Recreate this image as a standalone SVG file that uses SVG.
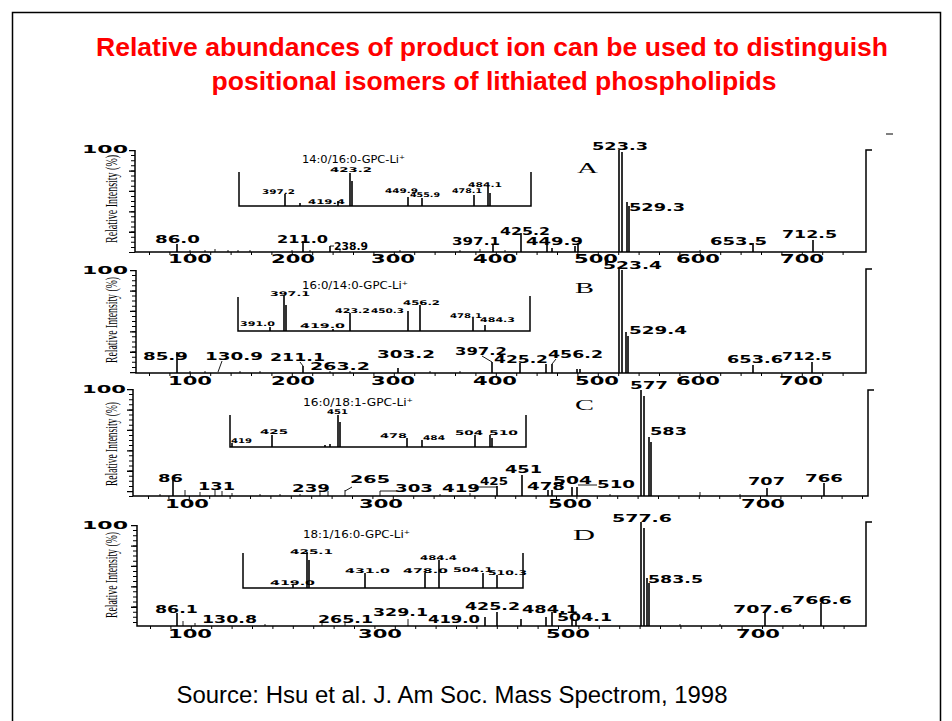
<svg xmlns="http://www.w3.org/2000/svg" width="952" height="721" viewBox="0 0 952 721">
<style>
.ax{stroke:#000;stroke-width:1.5;fill:none}
.pk{stroke:#000;stroke-width:1.6;fill:none}
.ld{stroke:#000;stroke-width:0.9;fill:none}
.ytm{stroke:#000;stroke-width:4;stroke-dasharray:1 4.1;fill:none}
.ytM{stroke:#000;stroke-width:6;stroke-dasharray:1.3 19.1;fill:none}
.xt{stroke:#000;stroke-width:3;stroke-dasharray:1 19.4;fill:none}
text{fill:#000}
.ttl{font-family:"Liberation Sans",Arial,sans-serif;font-weight:bold;font-size:26.6px;fill:#f00;text-anchor:middle}
.src{font-family:"Liberation Sans",Arial,sans-serif;font-size:23.9px;text-anchor:middle}
.n{font-family:"DejaVu Sans",sans-serif;font-weight:bold;font-size:13px}
.h{font-family:"DejaVu Sans",sans-serif;font-weight:bold;font-size:11px}
.p{font-family:"DejaVu Sans",sans-serif;font-weight:bold;font-size:10px}
.s{font-family:"DejaVu Sans",sans-serif;font-weight:bold;font-size:6.5px}
.it{font-family:"DejaVu Sans",sans-serif;font-size:11px}
.yl{font-family:"Liberation Serif","Times New Roman",serif;font-size:17px}
.lt{font-family:"Liberation Serif","Times New Roman",serif;font-size:15px}
</style>
<rect x="0" y="0" width="952" height="721" fill="#fff"/>
<path d="M12.5 721V12.5H940.5V721" stroke="#000" stroke-width="1.5" fill="none"/>
<g id="title">
<text class="ttl" x="492" y="56" textLength="792" lengthAdjust="spacingAndGlyphs">Relative abundances of product ion can be used to distinguish</text>
<text class="ttl" x="494" y="90" textLength="565" lengthAdjust="spacingAndGlyphs">positional isomers of lithiated phospholipids</text>
</g>
<path d="M886 134H893" stroke="#000" stroke-width="1"/>

<!-- Panel A -->
<g id="panel-A">
<path class="ax" d="M135 150V252H866V150H872"/>
<path class="ytm" d="M133 150V253"/>
<path class="ytM" d="M132 150V253"/>
<path class="xt" d="M149 253.5H862"/>
<text class="h" x="82" y="153" textLength="46" lengthAdjust="spacingAndGlyphs">100</text>
<text class="yl" transform="translate(117 243) rotate(-90)" textLength="88" lengthAdjust="spacingAndGlyphs">Relative Intensity (%)</text>
<text class="n" x="168" y="263" textLength="44" lengthAdjust="spacingAndGlyphs">100</text>
<text class="n" x="271" y="263" textLength="44" lengthAdjust="spacingAndGlyphs">200</text>
<text class="n" x="371" y="263" textLength="44" lengthAdjust="spacingAndGlyphs">300</text>
<text class="n" x="473" y="263" textLength="44" lengthAdjust="spacingAndGlyphs">400</text>
<text class="n" x="574" y="263" textLength="44" lengthAdjust="spacingAndGlyphs">500</text>
<text class="n" x="676" y="263" textLength="44" lengthAdjust="spacingAndGlyphs">600</text>
<text class="n" x="780" y="263" textLength="44" lengthAdjust="spacingAndGlyphs">700</text>
<path class="pk" d="M177 252V244M303 252V241M330 252V246M493 252V244M521 252V233M547 252V245M552 252V248M575 252V246M578 252V243M619 252V150M622 252V152M627 252V202M629 252V206M753 252V243M813 252V240"/>
<path class="ld" d="M190 252V250M205 252V250M215 252V249M228 252V250M238 252V250M250 252V250M292 252V250M310 252V250M340 252V249M400 252V250M460 252V250M480 252V249M505 252V250M700 252V250M330 246H334"/>
<text class="p" x="155" y="243" textLength="45" lengthAdjust="spacingAndGlyphs">86.0</text>
<text class="p" x="277" y="243" textLength="51" lengthAdjust="spacingAndGlyphs">211.0</text>
<text class="p" x="334" y="250" textLength="34" lengthAdjust="spacingAndGlyphs">238.9</text>
<text class="p" x="452" y="245" textLength="48" lengthAdjust="spacingAndGlyphs">397.1</text>
<text class="p" x="500" y="235" textLength="50" lengthAdjust="spacingAndGlyphs">425.2</text>
<text class="p" x="526" y="245" textLength="57" lengthAdjust="spacingAndGlyphs">449.9</text>
<text class="p" x="592" y="150" textLength="56" lengthAdjust="spacingAndGlyphs">523.3</text>
<text class="p" x="629" y="211" textLength="56" lengthAdjust="spacingAndGlyphs">529.3</text>
<text class="p" x="710" y="245" textLength="57" lengthAdjust="spacingAndGlyphs">653.5</text>
<text class="p" x="782" y="238" textLength="55" lengthAdjust="spacingAndGlyphs">712.5</text>
<text class="lt" x="577" y="173" textLength="21" lengthAdjust="spacingAndGlyphs">A</text>
<g id="inset-A">
<path class="ax" d="M239 172V206H531V172" stroke-width="1.2"/>
<text class="it" x="302" y="163" textLength="103" lengthAdjust="spacingAndGlyphs">14:0/16:0-GPC-Li⁺</text>
<path class="pk" d="M285 206V194M300 206V203M338 206V201M350 206V173M352 206V181M408 206V197M422 206V198M474 206V195M488 206V187M490 206V193" stroke-width="1.4"/>
<text class="s" x="262" y="194" textLength="33" lengthAdjust="spacingAndGlyphs">397.2</text>
<text class="s" x="308" y="204" textLength="37" lengthAdjust="spacingAndGlyphs">419.4</text>
<text class="s" x="330" y="172" textLength="42" lengthAdjust="spacingAndGlyphs">423.2</text>
<text class="s" x="385" y="193" textLength="33" lengthAdjust="spacingAndGlyphs">449.9</text>
<text class="s" x="410" y="197" textLength="30" lengthAdjust="spacingAndGlyphs">455.9</text>
<text class="s" x="452" y="193" textLength="30" lengthAdjust="spacingAndGlyphs">478.1</text>
<text class="s" x="468" y="187" textLength="34" lengthAdjust="spacingAndGlyphs">484.1</text>
</g>
</g>

<!-- Panel B -->
<g id="panel-B">
<path class="ax" d="M136 270V373H866V269H872"/>
<path class="ytm" d="M134 270V374"/>
<path class="ytM" d="M133 270V374"/>
<path class="xt" d="M149 374.5H862"/>
<text class="h" x="82" y="274" textLength="46" lengthAdjust="spacingAndGlyphs">100</text>
<text class="yl" transform="translate(117 363) rotate(-90)" textLength="86" lengthAdjust="spacingAndGlyphs">Relative Intensity (%)</text>
<text class="n" x="168" y="385" textLength="44" lengthAdjust="spacingAndGlyphs">100</text>
<text class="n" x="271" y="385" textLength="44" lengthAdjust="spacingAndGlyphs">200</text>
<text class="n" x="371" y="385" textLength="44" lengthAdjust="spacingAndGlyphs">300</text>
<text class="n" x="473" y="385" textLength="44" lengthAdjust="spacingAndGlyphs">400</text>
<text class="n" x="575" y="385" textLength="44" lengthAdjust="spacingAndGlyphs">500</text>
<text class="n" x="676" y="385" textLength="44" lengthAdjust="spacingAndGlyphs">600</text>
<text class="n" x="779" y="385" textLength="44" lengthAdjust="spacingAndGlyphs">700</text>
<path class="pk" d="M177 373V352M303 373V366M398 373V368M492 373V362M520 373V363M546 373V364M552 373V364M577 373V369M580 373V369M619 373V268M622 373V270M626 373V332M628 373V336M753 373V365M812 373V362"/>
<path class="ld" d="M222 361L218 372M300 362L303 366M482 356L492 362M556 359L552 364M190 373V371M205 373V371M240 373V371M260 373V371M330 373V371M350 373V371M430 373V371M460 373V371"/>
<text class="p" x="143" y="360" textLength="45" lengthAdjust="spacingAndGlyphs">85.9</text>
<text class="p" x="205" y="360" textLength="58" lengthAdjust="spacingAndGlyphs">130.9</text>
<text class="p" x="270" y="361" textLength="55" lengthAdjust="spacingAndGlyphs">211.1</text>
<text class="p" x="310" y="370" textLength="60" lengthAdjust="spacingAndGlyphs">263.2</text>
<text class="p" x="377" y="358" textLength="58" lengthAdjust="spacingAndGlyphs">303.2</text>
<text class="p" x="455" y="355" textLength="52" lengthAdjust="spacingAndGlyphs">397.2</text>
<text class="p" x="494" y="363" textLength="54" lengthAdjust="spacingAndGlyphs">425.2</text>
<text class="p" x="548" y="358" textLength="55" lengthAdjust="spacingAndGlyphs">456.2</text>
<text class="p" x="603" y="269" textLength="59" lengthAdjust="spacingAndGlyphs">523.4</text>
<text class="p" x="629" y="334" textLength="58" lengthAdjust="spacingAndGlyphs">529.4</text>
<text class="p" x="727" y="363" textLength="56" lengthAdjust="spacingAndGlyphs">653.6</text>
<text class="p" x="782" y="360" textLength="50" lengthAdjust="spacingAndGlyphs">712.5</text>
<text class="lt" x="575" y="293" textLength="19" lengthAdjust="spacingAndGlyphs">B</text>
<g id="inset-B">
<path class="ax" d="M238 297V331H530V296" stroke-width="1.2"/>
<text class="it" x="302" y="289" textLength="106" lengthAdjust="spacingAndGlyphs">16:0/14:0-GPC-Li⁺</text>
<path class="pk" d="M270 331V327M284 331V296M286 331V305M333 331V329M350 331V313M408 331V311M420 331V305M473 331V318M485 331V325" stroke-width="1.4"/>
<text class="s" x="240" y="326" textLength="35" lengthAdjust="spacingAndGlyphs">391.0</text>
<text class="s" x="270" y="296" textLength="40" lengthAdjust="spacingAndGlyphs">397.1</text>
<text class="s" x="300" y="328" textLength="45" lengthAdjust="spacingAndGlyphs">419.0</text>
<text class="s" x="335" y="313" textLength="35" lengthAdjust="spacingAndGlyphs">423.2</text>
<text class="s" x="371" y="313" textLength="33" lengthAdjust="spacingAndGlyphs">450.3</text>
<text class="s" x="403" y="305" textLength="37" lengthAdjust="spacingAndGlyphs">456.2</text>
<text class="s" x="450" y="318" textLength="32" lengthAdjust="spacingAndGlyphs">478.1</text>
<text class="s" x="480" y="322" textLength="35" lengthAdjust="spacingAndGlyphs">484.3</text>
</g>
</g>

<!-- Panel C -->
<g id="panel-C">
<path class="ax" d="M133 389V496H868V390H874"/>
<path class="ytm" d="M131 389V497"/>
<path class="ytM" d="M130 389V497"/>
<path class="xt" d="M148 497.5H864"/>
<text class="h" x="82" y="393" textLength="44" lengthAdjust="spacingAndGlyphs">100</text>
<text class="yl" transform="translate(117 486) rotate(-90)" textLength="84" lengthAdjust="spacingAndGlyphs">Relative Intensity (%)</text>
<text class="n" x="165" y="508" textLength="44" lengthAdjust="spacingAndGlyphs">100</text>
<text class="n" x="359" y="508" textLength="44" lengthAdjust="spacingAndGlyphs">300</text>
<text class="n" x="548" y="508" textLength="44" lengthAdjust="spacingAndGlyphs">500</text>
<text class="n" x="741" y="508" textLength="44" lengthAdjust="spacingAndGlyphs">700</text>
<path class="pk" d="M173 496V480M497 496V486M522 496V475M548 496V490M552 496V490M572 496V487M577 496V487M641 496V390M644 496V396M649 496V437M651 496V442M767 496V488M824 496V483"/>
<path class="ld" d="M185 496V490M200 496V492M215 496V489M222 496V491M232 496V493M300 496V494M320 496V491M328 496V491M345 496V490M440 496V494M700 496V492M352 487L345 491M380 496V491H397M474 487H497M578 485H597M160 496V494M260 496V494M280 496V494M470 496V493M610 496V494M740 496V494"/>
<text class="p" x="158" y="482" textLength="25" lengthAdjust="spacingAndGlyphs">86</text>
<text class="p" x="198" y="490" textLength="37" lengthAdjust="spacingAndGlyphs">131</text>
<text class="p" x="292" y="492" textLength="38" lengthAdjust="spacingAndGlyphs">239</text>
<text class="p" x="350" y="483" textLength="40" lengthAdjust="spacingAndGlyphs">265</text>
<text class="p" x="395" y="492" textLength="38" lengthAdjust="spacingAndGlyphs">303</text>
<text class="p" x="442" y="492" textLength="38" lengthAdjust="spacingAndGlyphs">419</text>
<text class="p" x="480" y="485" textLength="28" lengthAdjust="spacingAndGlyphs">425</text>
<text class="p" x="505" y="473" textLength="37" lengthAdjust="spacingAndGlyphs">451</text>
<text class="p" x="527" y="490" textLength="38" lengthAdjust="spacingAndGlyphs">478</text>
<text class="p" x="553" y="484" textLength="39" lengthAdjust="spacingAndGlyphs">504</text>
<text class="p" x="597" y="488" textLength="38" lengthAdjust="spacingAndGlyphs">510</text>
<text class="p" x="630" y="389" textLength="38" lengthAdjust="spacingAndGlyphs">577</text>
<text class="p" x="650" y="435" textLength="37" lengthAdjust="spacingAndGlyphs">583</text>
<text class="p" x="748" y="485" textLength="37" lengthAdjust="spacingAndGlyphs">707</text>
<text class="p" x="805" y="482" textLength="38" lengthAdjust="spacingAndGlyphs">766</text>
<text class="lt" x="575" y="410" textLength="19" lengthAdjust="spacingAndGlyphs">C</text>
<g id="inset-C">
<path class="ax" d="M230 415V447H526V415" stroke-width="1.2"/>
<text class="it" x="303" y="406" textLength="110" lengthAdjust="spacingAndGlyphs">16:0/18:1-GPC-Li⁺</text>
<path class="pk" d="M232 447V443M272 447V435M325 447V445M330 447V444M338 447V415M340 447V422M407 447V438M422 447V440M475 447V435M490 447V435M492 447V438" stroke-width="1.4"/>
<text class="s" x="231" y="443" textLength="21" lengthAdjust="spacingAndGlyphs">419</text>
<text class="s" x="260" y="434" textLength="28" lengthAdjust="spacingAndGlyphs">425</text>
<text class="s" x="327" y="414" textLength="21" lengthAdjust="spacingAndGlyphs">451</text>
<text class="s" x="380" y="438" textLength="27" lengthAdjust="spacingAndGlyphs">478</text>
<text class="s" x="423" y="440" textLength="22" lengthAdjust="spacingAndGlyphs">484</text>
<text class="s" x="455" y="435" textLength="28" lengthAdjust="spacingAndGlyphs">504</text>
<text class="s" x="489" y="435" textLength="29" lengthAdjust="spacingAndGlyphs">510</text>
</g>
</g>

<!-- Panel D -->
<g id="panel-D">
<path class="ax" d="M137 525V626H866V522H872"/>
<path class="ytm" d="M135 525V627"/>
<path class="ytM" d="M134 525V627"/>
<path class="xt" d="M150 627.5H862"/>
<text class="h" x="82" y="529" textLength="46" lengthAdjust="spacingAndGlyphs">100</text>
<text class="yl" transform="translate(117 618) rotate(-90)" textLength="86" lengthAdjust="spacingAndGlyphs">Relative Intensity (%)</text>
<text class="n" x="168" y="638" textLength="44" lengthAdjust="spacingAndGlyphs">100</text>
<text class="n" x="358" y="638" textLength="44" lengthAdjust="spacingAndGlyphs">300</text>
<text class="n" x="546" y="638" textLength="44" lengthAdjust="spacingAndGlyphs">500</text>
<text class="n" x="736" y="638" textLength="44" lengthAdjust="spacingAndGlyphs">700</text>
<path class="pk" d="M177 626V613M485 626V617M497 626V612M521 626V619M546 626V617M552 626V612M572 626V620M576 626V620M641 626V522M644 626V528M647 626V578M649 626V583M765 626V613M821 626V603"/>
<path class="ld" d="M183 626V621M195 626V623M322 626V623M345 626V622M408 626V619M265 626V624M680 626V624M720 626V624M800 626V624"/>
<text class="p" x="155" y="613" textLength="43" lengthAdjust="spacingAndGlyphs">86.1</text>
<text class="p" x="202" y="623" textLength="55" lengthAdjust="spacingAndGlyphs">130.8</text>
<text class="p" x="318" y="623" textLength="55" lengthAdjust="spacingAndGlyphs">265.1</text>
<text class="p" x="373" y="616" textLength="55" lengthAdjust="spacingAndGlyphs">329.1</text>
<text class="p" x="428" y="623" textLength="52" lengthAdjust="spacingAndGlyphs">419.0</text>
<text class="p" x="465" y="610" textLength="55" lengthAdjust="spacingAndGlyphs">425.2</text>
<text class="p" x="522" y="613" textLength="56" lengthAdjust="spacingAndGlyphs">484.1</text>
<text class="p" x="557" y="621" textLength="55" lengthAdjust="spacingAndGlyphs">504.1</text>
<text class="p" x="612" y="522" textLength="60" lengthAdjust="spacingAndGlyphs">577.6</text>
<text class="p" x="648" y="583" textLength="55" lengthAdjust="spacingAndGlyphs">583.5</text>
<text class="p" x="733" y="613" textLength="60" lengthAdjust="spacingAndGlyphs">707.6</text>
<text class="p" x="792" y="604" textLength="60" lengthAdjust="spacingAndGlyphs">766.6</text>
<text class="lt" x="573" y="540" textLength="22" lengthAdjust="spacingAndGlyphs">D</text>
<g id="inset-D">
<path class="ax" d="M243 553V588H523V553" stroke-width="1.2"/>
<text class="it" x="303" y="538" textLength="107" lengthAdjust="spacingAndGlyphs">18:1/16:0-GPC-Li⁺</text>
<path class="pk" d="M293 588V584M307 588V552M309 588V560M365 588V573M425 588V573M439 588V560M483 588V573M497 588V575" stroke-width="1.4"/>
<text class="s" x="270" y="585" textLength="45" lengthAdjust="spacingAndGlyphs">419.0</text>
<text class="s" x="290" y="554" textLength="43" lengthAdjust="spacingAndGlyphs">425.1</text>
<text class="s" x="345" y="573" textLength="45" lengthAdjust="spacingAndGlyphs">431.0</text>
<text class="s" x="403" y="573" textLength="45" lengthAdjust="spacingAndGlyphs">478.0</text>
<text class="s" x="420" y="560" textLength="37" lengthAdjust="spacingAndGlyphs">484.4</text>
<text class="s" x="453" y="572" textLength="40" lengthAdjust="spacingAndGlyphs">504.1</text>
<text class="s" x="488" y="575" textLength="39" lengthAdjust="spacingAndGlyphs">510.3</text>
</g>
</g>

<g id="source">
<text class="src" x="452" y="703" textLength="551" lengthAdjust="spacingAndGlyphs">Source: Hsu et al. J. Am Soc. Mass Spectrom, 1998</text>
</g>
<g id="connectors"></g>
</svg>
